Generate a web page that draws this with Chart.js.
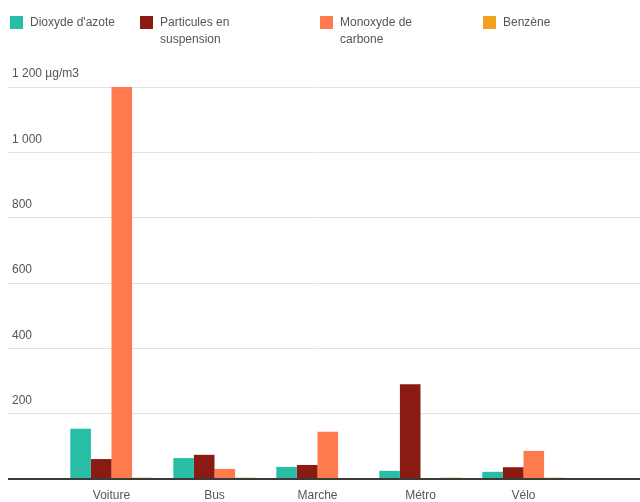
<!DOCTYPE html>
<html>
<head>
<meta charset="utf-8">
<script src="https://cdn.jsdelivr.net/npm/chart.js@4"></script>
<style>
    html, body { margin: 0; padding: 0; background: #fff; }
    #wrap { position: relative; width: 640px; height: 502px; }
    #legend { position: absolute; left: 10px; top: 14px; display: flex;
              font: 12px "Liberation Sans", Arial, sans-serif; color: #555; line-height: 17px; }
    .item { display: flex; align-items: flex-start; }
    .box { width: 13px; height: 13px; margin: 2px 7px 0 0; flex: none; }
    .txt { max-width: 92px; }
</style>
</head>
<body>
<div id="wrap">
    <canvas id="pollutionChart" width="640" height="502"></canvas>
    <div id="legend"></div>
</div>
<script>
// Exposition moyenne par mode de transport (µg/m3)
const categories = ['Voiture', 'Bus', 'Marche', 'Métro', 'Vélo'];
const dioxydeAzote = [154, 64, 37, 25, 22];
const particules = [61, 74, 43, 290, 36];
const monoxydeCarbone = [1200, 31, 145, 0, 86];
const benzene = [4, 4, 0, 4, 4];

const yTicks = [200, 400, 600, 800, 1000, 1200];
const yTickLabels = ['200', '400', '600', '800', '1 000', '1 200 µg/m3'];

Chart.defaults.font.family = '"Liberation Sans", Arial, sans-serif';
Chart.defaults.font.size = 12;
Chart.defaults.color = '#555';

// item widths of the legend row, in px
const legendWidths = [130, 180, 163, 120];

// builds the legend in html so long labels can wrap on two lines
const htmlLegend = {
    id: 'htmlLegend',
    afterUpdate(chart) {
        const el = document.getElementById('legend');
        el.innerHTML = '';
        chart.data.datasets.forEach((ds, i) => {
            const item = document.createElement('div');
            item.className = 'item';
            item.style.width = legendWidths[i] + 'px';
            const box = document.createElement('span');
            box.className = 'box';
            box.style.background = ds.backgroundColor;
            const txt = document.createElement('span');
            txt.className = 'txt';
            txt.textContent = ds.label;
            item.appendChild(box);
            item.appendChild(txt);
            el.appendChild(item);
        });
    }
};

const gridColor = c => c.tick && c.tick.value === 0 ? '#3a3a3a' : '#e2e2e2';
const gridWidth = c => c.tick && c.tick.value === 0 ? 2 : 1;

const ctx = document.getElementById('pollutionChart').getContext('2d');
new Chart(ctx, {
    type: 'bar',
    data: {
        labels: categories,
        datasets: [
            { label: "Dioxyde d'azote", data: dioxydeAzote, backgroundColor: '#28bea5' },
            { label: 'Particules en suspension', data: particules, backgroundColor: '#8b1a12' },
            { label: 'Monoxyde de carbone', data: monoxydeCarbone, backgroundColor: '#ff7a4c' },
            { label: 'Benzène', data: benzene, backgroundColor: '#f2a01e' }
        ]
    },
    options: {
        responsive: false,
        animation: false,
        layout: { padding: { left: 8, right: 0, top: 87, bottom: 0 } },
        datasets: { bar: { categoryPercentage: 0.8, barPercentage: 1.0 } },
        plugins: {
            legend: { display: false },
            tooltip: { enabled: false }
        },
        scales: {
            x: {
                grid: { display: false, drawTicks: false },
                border: { display: false },
                ticks: { padding: 9, color: '#555' },
                afterFit: s => { s.height = 23; s.paddingBottom = 0; }
            },
            y: {
                min: 0,
                max: 1200,
                border: { display: false },
                grid: { color: gridColor, lineWidth: gridWidth, drawTicks: true, tickLength: 52 },
                ticks: {
                    stepSize: 200,
                    mirror: true,
                    padding: -48,
                    labelOffset: -13,
                    color: '#555',
                    callback: v => {
                        const i = yTicks.indexOf(v);
                        return i < 0 ? '' : yTickLabels[i];
                    }
                },
                afterFit: s => { s.width = 52; s.paddingTop = 0; s.paddingBottom = 0; }
            },
            // only here to carry the grid lines out to the right edge
            y2: {
                position: 'right',
                min: 0,
                max: 1200,
                border: { display: false },
                grid: { drawOnChartArea: false, color: gridColor, lineWidth: gridWidth, tickLength: 65 },
                ticks: { stepSize: 200, display: false },
                afterFit: s => { s.width = 65; s.paddingTop = 0; s.paddingBottom = 0; }
            }
        }
    },
    plugins: [htmlLegend]
});
</script>
</body>
</html>
